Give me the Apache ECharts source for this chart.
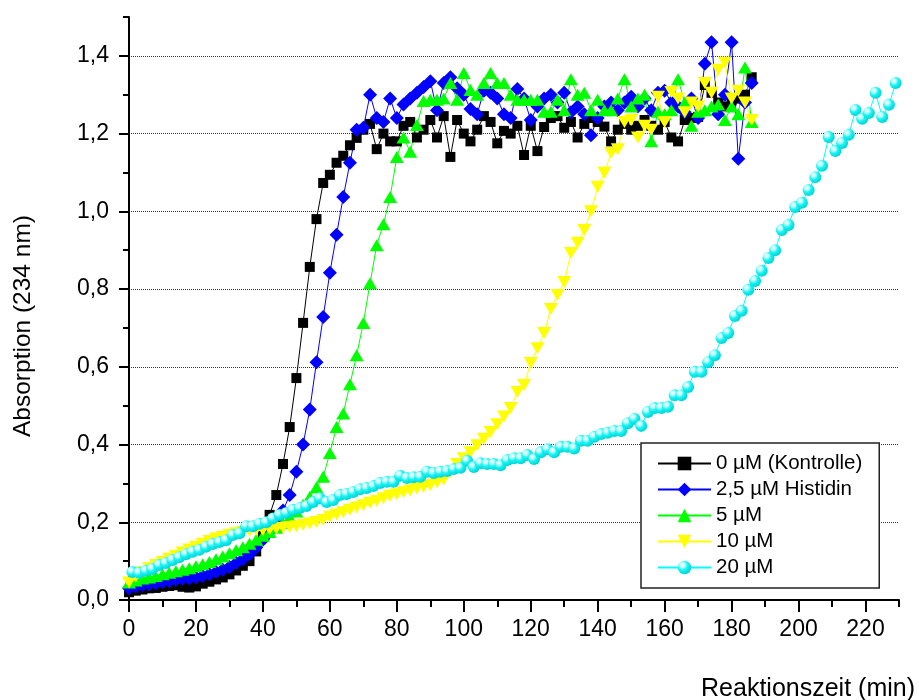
<!DOCTYPE html>
<html>
<head>
<meta charset="utf-8">
<script src="https://cdn.jsdelivr.net/npm/echarts@6/dist/echarts.min.js"></script>
<style>
  html, body { margin: 0; padding: 0; background: #ffffff; }
  #chart { width: 919px; height: 700px; }
</style>
</head>
<body>
<div id="chart"></div>
<script>
// Sampling times (min)
const timeEven = [
  0, 2, 4, 6, 8, 10, 12, 14, 16, 18,
  20, 22, 24, 26, 28, 30, 32, 34, 36, 38,
  40, 42, 44, 46, 48, 50, 52, 54, 56, 58,
  60, 62, 64, 66, 68, 70, 72, 74, 76, 78,
  80, 82, 84, 86, 88, 90, 92, 94, 96, 98,
  100, 102, 104, 106, 108, 110, 112, 114, 116, 118,
  120, 122, 124, 126, 128, 130, 132, 134, 136, 138,
  140, 142, 144, 146, 148, 150, 152, 154, 156, 158,
  160, 162, 164, 166, 168, 170, 172, 174, 176, 178,
  180, 182, 184, 186
];
const timeOdd = [
  1, 3, 5, 7, 9, 11, 13, 15, 17, 19,
  21, 23, 25, 27, 29, 31, 33, 35, 37, 39,
  41, 43, 45, 47, 49, 51, 53, 55, 57, 59,
  61, 63, 65, 67, 69, 71, 73, 75, 77, 79,
  81, 83, 85, 87, 89, 91, 93, 95, 97, 99,
  101, 103, 105, 107, 109, 111, 113, 115, 117, 119,
  121, 123, 125, 127, 129, 131, 133, 135, 137, 139,
  141, 143, 145, 147, 149, 151, 153, 155, 157, 159,
  161, 163, 165, 167, 169, 171, 173, 175, 177, 179,
  181, 183, 185, 187, 189, 191, 193, 195, 197, 199,
  201, 203, 205, 207, 209, 211, 213, 215, 217, 219,
  221, 223, 225, 227, 229
];

// Absorption at 234 nm
const absControl = [
  0.020, 0.024, 0.027, 0.030, 0.031, 0.034, 0.036, 0.038, 0.034, 0.032,
  0.035, 0.042, 0.047, 0.053, 0.058, 0.066, 0.076, 0.088, 0.100, 0.125,
  0.165, 0.219, 0.270, 0.350, 0.445, 0.571, 0.713, 0.857, 0.980, 1.073,
  1.094, 1.125, 1.143, 1.170, 1.189, 1.210, 1.225, 1.160, 1.200, 1.180,
  1.180, 1.220, 1.230, 1.190, 1.210, 1.235, 1.190, 1.245, 1.140, 1.235,
  1.200, 1.180, 1.210, 1.245, 1.230, 1.175, 1.207, 1.200, 1.220, 1.145,
  1.220, 1.155, 1.217, 1.240, 1.245, 1.215, 1.230, 1.190, 1.225, 1.240,
  1.230, 1.218, 1.180, 1.210, 1.225, 1.210, 1.220, 1.235, 1.220, 1.210,
  1.230, 1.190, 1.180, 1.235, 1.240, 1.243, 1.325, 1.305, 1.280, 1.270,
  1.285, 1.290, 1.300, 1.345
];
const absHis2_5 = [
  0.030, 0.035, 0.038, 0.040, 0.043, 0.046, 0.048, 0.052, 0.055, 0.055,
  0.058, 0.062, 0.066, 0.072, 0.078, 0.085, 0.095, 0.105, 0.118, 0.135,
  0.155, 0.175, 0.200, 0.230, 0.270, 0.330, 0.400, 0.490, 0.612, 0.728,
  0.842, 0.940, 1.037, 1.125, 1.210, 1.215, 1.300, 1.240, 1.230, 1.290,
  1.240, 1.275, 1.290, 1.305, 1.320, 1.335, 1.260, 1.330, 1.345, 1.317,
  1.300, 1.263, 1.250, 1.310, 1.305, 1.290, 1.250, 1.240, 1.315, 1.290,
  1.235, 1.270, 1.290, 1.300, 1.280, 1.305, 1.255, 1.270, 1.250, 1.196,
  1.240, 1.270, 1.280, 1.260, 1.280, 1.295, 1.270, 1.290, 1.260, 1.305,
  1.310, 1.280, 1.270, 1.255, 1.290, 1.240, 1.380, 1.435, 1.250, 1.300,
  1.435, 1.135, 1.280, 1.330
];
const absHis5 = [
  0.045, 0.050, 0.055, 0.058, 0.062, 0.066, 0.070, 0.074, 0.078, 0.082,
  0.087, 0.092, 0.098, 0.105, 0.112, 0.120, 0.128, 0.136, 0.145, 0.155,
  0.165, 0.175, 0.186, 0.198, 0.212, 0.228, 0.245, 0.265, 0.290, 0.317,
  0.378, 0.445, 0.480, 0.555, 0.630, 0.713, 0.815, 0.913, 0.967, 1.037,
  1.140, 1.190, 1.153, 1.222, 1.284, 1.287, 1.287, 1.290, 1.330, 1.287,
  1.356, 1.312, 1.300, 1.330, 1.356, 1.330, 1.330, 1.300, 1.287, 1.287,
  1.287, 1.287, 1.256, 1.256, 1.287, 1.260, 1.340, 1.300, 1.305, 1.260,
  1.287, 1.260, 1.260, 1.290, 1.340, 1.270, 1.290, 1.300, 1.180, 1.256,
  1.250, 1.260, 1.340, 1.280, 1.220, 1.256, 1.260, 1.270, 1.275, 1.235,
  1.270, 1.250, 1.370, 1.230
];
const absHis10 = [
  0.045, 0.060, 0.072, 0.082, 0.090, 0.098, 0.106, 0.114, 0.122, 0.130,
  0.137, 0.145, 0.152, 0.158, 0.163, 0.168, 0.172, 0.175, 0.178, 0.181,
  0.180, 0.182, 0.184, 0.186, 0.188, 0.190, 0.193, 0.197, 0.201, 0.206,
  0.214, 0.220, 0.226, 0.232, 0.238, 0.244, 0.250, 0.255, 0.262, 0.268,
  0.272, 0.277, 0.282, 0.287, 0.291, 0.296, 0.302, 0.310, 0.330, 0.350,
  0.365, 0.380, 0.398, 0.415, 0.432, 0.452, 0.472, 0.494, 0.535, 0.553,
  0.610, 0.648, 0.687, 0.749, 0.785, 0.818, 0.893, 0.919, 0.952, 1.000,
  1.063, 1.099, 1.150, 1.160, 1.230, 1.235, 1.190, 1.220, 1.210, 1.295,
  1.230, 1.307, 1.290, 1.255, 1.280, 1.270, 1.330, 1.305, 1.364, 1.382,
  1.290, 1.310, 1.280, 1.235
];
const absHis20 = [
  0.072, 0.070, 0.075, 0.080, 0.090, 0.095, 0.103, 0.110, 0.118, 0.124,
  0.129, 0.137, 0.144, 0.149, 0.154, 0.167, 0.172, 0.190, 0.190, 0.196,
  0.200, 0.210, 0.219, 0.224, 0.232, 0.237, 0.242, 0.252, 0.262, 0.252,
  0.257, 0.270, 0.273, 0.278, 0.285, 0.288, 0.293, 0.301, 0.304, 0.304,
  0.320, 0.314, 0.316, 0.317, 0.330, 0.327, 0.330, 0.332, 0.337, 0.340,
  0.358, 0.342, 0.352, 0.350, 0.350, 0.347, 0.360, 0.365, 0.365, 0.373,
  0.363, 0.380, 0.388, 0.380, 0.394, 0.394, 0.390, 0.410, 0.410, 0.420,
  0.427, 0.430, 0.435, 0.435, 0.455, 0.466, 0.448, 0.484, 0.494, 0.494,
  0.497, 0.527, 0.527, 0.548, 0.587, 0.587, 0.612, 0.630, 0.674, 0.687,
  0.731, 0.744, 0.798, 0.821, 0.847, 0.880, 0.900, 0.952, 0.965, 1.011,
  1.022, 1.055, 1.088, 1.117, 1.191, 1.155, 1.176, 1.197, 1.261, 1.238,
  1.253, 1.305, 1.243, 1.274, 1.330
];

const seriesNames = ['0 µM (Kontrolle)', '2,5 µM Histidin', '5 µM', '10 µM', '20 µM'];
const xTitle = 'Reaktionszeit (min)';
const yTitle = 'Absorption (234 nm)';

const FONT = '"Liberation Sans", Arial, Helvetica, sans-serif';

function pairs(times, values) {
  return values.map((v, i) => [times[i], v]);
}

function lineSeries(name, data, symbol, size, color, lineColor) {
  return {
    name: name,
    type: 'line',
    xAxisIndex: 0,
    yAxisIndex: 0,
    data: data,
    symbol: symbol,
    symbolSize: size,
    showSymbol: true,
    showAllSymbol: true,
    lineStyle: { color: lineColor, width: 1 },
    itemStyle: { color: color, borderWidth: 0 },
    emphasis: { disabled: true },
    animation: false
  };
}

// shaded ball marker for the 20 µM curve
const sphere = new echarts.graphic.RadialGradient(0.35, 0.32, 0.65, [
  { offset: 0, color: '#ffffff' },
  { offset: 0.28, color: '#b8ffff' },
  { offset: 0.55, color: '#22f4f4' },
  { offset: 1, color: '#00d8d8' }
]);

const tickStyle = { color: '#000', width: 2 };
const labelStyle = { color: '#000', fontSize: 23, fontFamily: FONT };

const chart = echarts.init(document.getElementById('chart'), null, { renderer: 'canvas' });

chart.setOption({
  animation: false,
  backgroundColor: '#ffffff',
  textStyle: { fontFamily: FONT },
  grid: [
    // data area with minor ticks
    { left: 129, right: 20, top: 17, bottom: 100 },
    // major y ticks, labels and grid lines
    { left: 129, right: 20, top: 55.9, bottom: 100 },
    // major x ticks and labels
    { left: 129, right: 53.5, top: 17, bottom: 100 }
  ],
  xAxis: [
    {
      gridIndex: 0, type: 'value', min: 0, max: 230, interval: 10,
      axisLine: { show: true, onZero: false, lineStyle: tickStyle },
      axisTick: { show: true, length: 7, lineStyle: tickStyle },
      axisLabel: { show: false },
      splitLine: { show: false }
    },
    { gridIndex: 1, type: 'value', min: 0, max: 230, show: false },
    {
      gridIndex: 2, type: 'value', min: 0, max: 220, interval: 20,
      axisLine: { show: false },
      axisTick: { show: true, length: 12, lineStyle: tickStyle },
      axisLabel: Object.assign({ show: true, margin: 18 }, labelStyle),
      splitLine: { show: false }
    }
  ],
  yAxis: [
    {
      gridIndex: 0, type: 'value', min: 0, max: 1.5, interval: 0.1,
      axisLine: { show: true, onZero: false, lineStyle: tickStyle },
      axisTick: { show: true, length: 6, lineStyle: tickStyle },
      axisLabel: { show: false },
      splitLine: { show: false }
    },
    {
      gridIndex: 1, type: 'value', min: 0, max: 1.4, interval: 0.2,
      axisLine: { show: false },
      axisTick: { show: true, length: 10, lineStyle: tickStyle },
      axisLabel: Object.assign({
        show: true, margin: 20,
        formatter: v => v.toFixed(1).replace('.', ',')
      }, labelStyle),
      splitLine: {
        show: true, showMinLine: false,
        lineStyle: { type: 'dotted', color: '#333', width: 1 }
      }
    },
    { gridIndex: 2, type: 'value', min: 0, max: 1.5, show: false }
  ],
  legend: {
    orient: 'vertical',
    left: 641,
    top: 443,
    padding: [10, 17, 10, 16],
    itemGap: 5,
    itemWidth: 53,
    itemHeight: 17,
    backgroundColor: '#ffffff',
    borderColor: '#222',
    borderWidth: 1.5,
    selectedMode: false,
    textStyle: { color: '#000', fontSize: 20.5, fontFamily: FONT },
    data: seriesNames
  },
  graphic: [
    {
      type: 'text', x: 915, y: 689, silent: true,
      style: {
        text: xTitle, font: '25px ' + FONT, fill: '#000',
        align: 'right', verticalAlign: 'middle',
        textAlign: 'right', textVerticalAlign: 'middle'
      }
    },
    {
      type: 'text', x: 23, y: 326, rotation: Math.PI / 2, silent: true,
      style: {
        text: yTitle, font: '24.5px ' + FONT, fill: '#000',
        align: 'center', verticalAlign: 'middle',
        textAlign: 'center', textVerticalAlign: 'middle'
      }
    }
  ],
  series: [
    lineSeries(seriesNames[0], pairs(timeEven, absControl), 'rect', 10, '#000000', '#000000'),
    lineSeries(seriesNames[1], pairs(timeEven, absHis2_5), 'diamond', [14, 14], '#0000ff', '#0000ff'),
    lineSeries(seriesNames[2], pairs(timeEven, absHis5), 'triangle', [14, 12], '#00ff00', '#00ff00'),
    lineSeries(seriesNames[3], pairs(timeEven, absHis10), 'path://M0,0L12,0L6,10Z', [14, 12], '#ffff00', '#ffff00'),
    lineSeries(seriesNames[4], pairs(timeOdd, absHis20), 'circle', 12, sphere, '#00ffff')
  ]
});
</script>
</body>
</html>
